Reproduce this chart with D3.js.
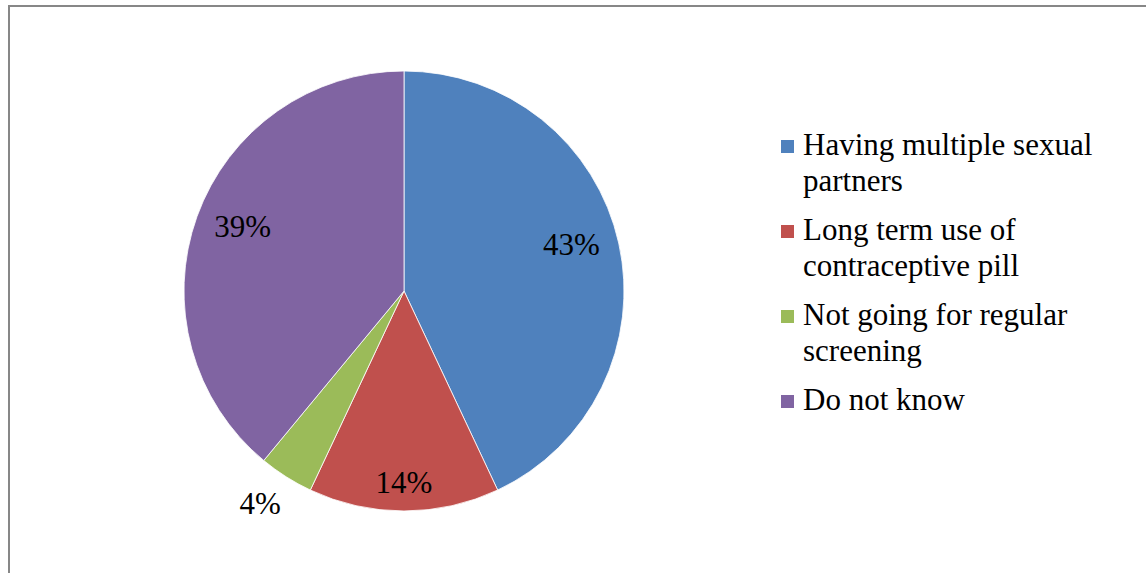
<!DOCTYPE html>
<html>
<head>
<meta charset="utf-8">
<script src="https://cdn.jsdelivr.net/npm/d3@7"></script>
<style>
  html, body { margin: 0; padding: 0; background: #fff; }
  svg { display: block; }
</style>
</head>
<body>
<svg id="chart" width="1146" height="573"></svg>
<script>
// Perceived risk factors, share of respondents (%)
const categories = [
  "Having multiple sexual partners",
  "Long term use of contraceptive pill",
  "Not going for regular screening",
  "Do not know"
];
const values = [43, 14, 4, 39];
const colors = ["#4F81BD", "#C0504D", "#9BBB59", "#8064A2"];

const W = 1146, H = 573;
const FONT = "'Liberation Serif', 'DejaVu Serif', serif";
const svg = d3.select("#chart")
  .style("font-family", FONT);

// pick a font size so the widest legend line spans ~294px
const probe = svg.append("text").attr("font-size", 100).text("Having multiple sexual");
const fontSize = Math.min(31, 294 / probe.node().getComputedTextLength() * 100);
probe.remove();

// chart frame
svg.append("rect")
  .attr("x", 9).attr("y", 6)
  .attr("width", W).attr("height", H)
  .attr("fill", "none")
  .attr("stroke", "#878787")
  .attr("stroke-width", 2);

const cx = 404, cy = 291, radius = 220;
const data = categories.map((c, i) => ({ name: c, value: values[i], color: colors[i] }));
const total = d3.sum(values);

const pie = d3.pie().value(d => d.value).sort(null);
const arcs = pie(data);
const arc = d3.arc().innerRadius(0).outerRadius(radius);

const g = svg.append("g").attr("transform", `translate(${cx},${cy})`);

g.selectAll("path.slice")
  .data(arcs)
  .join("path")
  .attr("class", "slice")
  .attr("d", arc)
  .attr("fill", d => d.data.color)
  .attr("stroke", "#fff")
  .attr("stroke-width", 0.8);

// data labels: inside for wide slices, pushed outward for narrow ones
function labelRadius(d) {
  const share = d.data.value / total;
  if (share < 0.05) return radius * 1.165;
  if (share < 0.2) return radius * 0.87;
  return radius * 0.79;
}
function labelAngle(d) {
  const mid = (d.startAngle + d.endAngle) / 2;
  const share = d.data.value / total;
  // wide slices: nudge the label toward the horizontal
  if (share > 0.3) return mid + (mid < Math.PI ? -0.05 : 0.035);
  if (share < 0.05) return mid + 0.03;
  return mid;
}

g.selectAll("text.pct")
  .data(arcs)
  .join("text")
  .attr("class", "pct")
  .attr("text-anchor", "middle")
  .attr("font-size", fontSize)
  .attr("fill", "#000")
  .attr("dy", "0.34em")
  .attr("x", d => Math.sin(labelAngle(d)) * labelRadius(d))
  .attr("y", d => -Math.cos(labelAngle(d)) * labelRadius(d))
  .text(d => d.data.value + "%");

// legend with wrapped entries
const legendX = 781, textX = 803, firstBaseline = 155;
const lineH = 36, entryGap = 13, maxTextW = 320;
const legend = svg.append("g");

let baseline = firstBaseline;
data.forEach(d => {
  const t = legend.append("text")
    .attr("x", textX)
    .attr("y", baseline)
    .attr("font-size", fontSize)
    .attr("fill", "#000");
  const words = d.name.split(" ");
  let line = [];
  let tspan = t.append("tspan").attr("x", textX).attr("y", baseline);
  let lines = 1;
  words.forEach(w => {
    line.push(w);
    tspan.text(line.join(" "));
    if (tspan.node().getComputedTextLength() > maxTextW && line.length > 1) {
      line.pop();
      tspan.text(line.join(" "));
      line = [w];
      tspan = t.append("tspan")
        .attr("x", textX)
        .attr("y", baseline + lines * lineH)
        .text(w);
      lines++;
    }
  });
  legend.append("rect")
    .attr("x", legendX)
    .attr("y", baseline - 15)
    .attr("width", 13)
    .attr("height", 13)
    .attr("fill", d.color);
  baseline += lines * lineH + entryGap;
});
</script>
</body>
</html>
